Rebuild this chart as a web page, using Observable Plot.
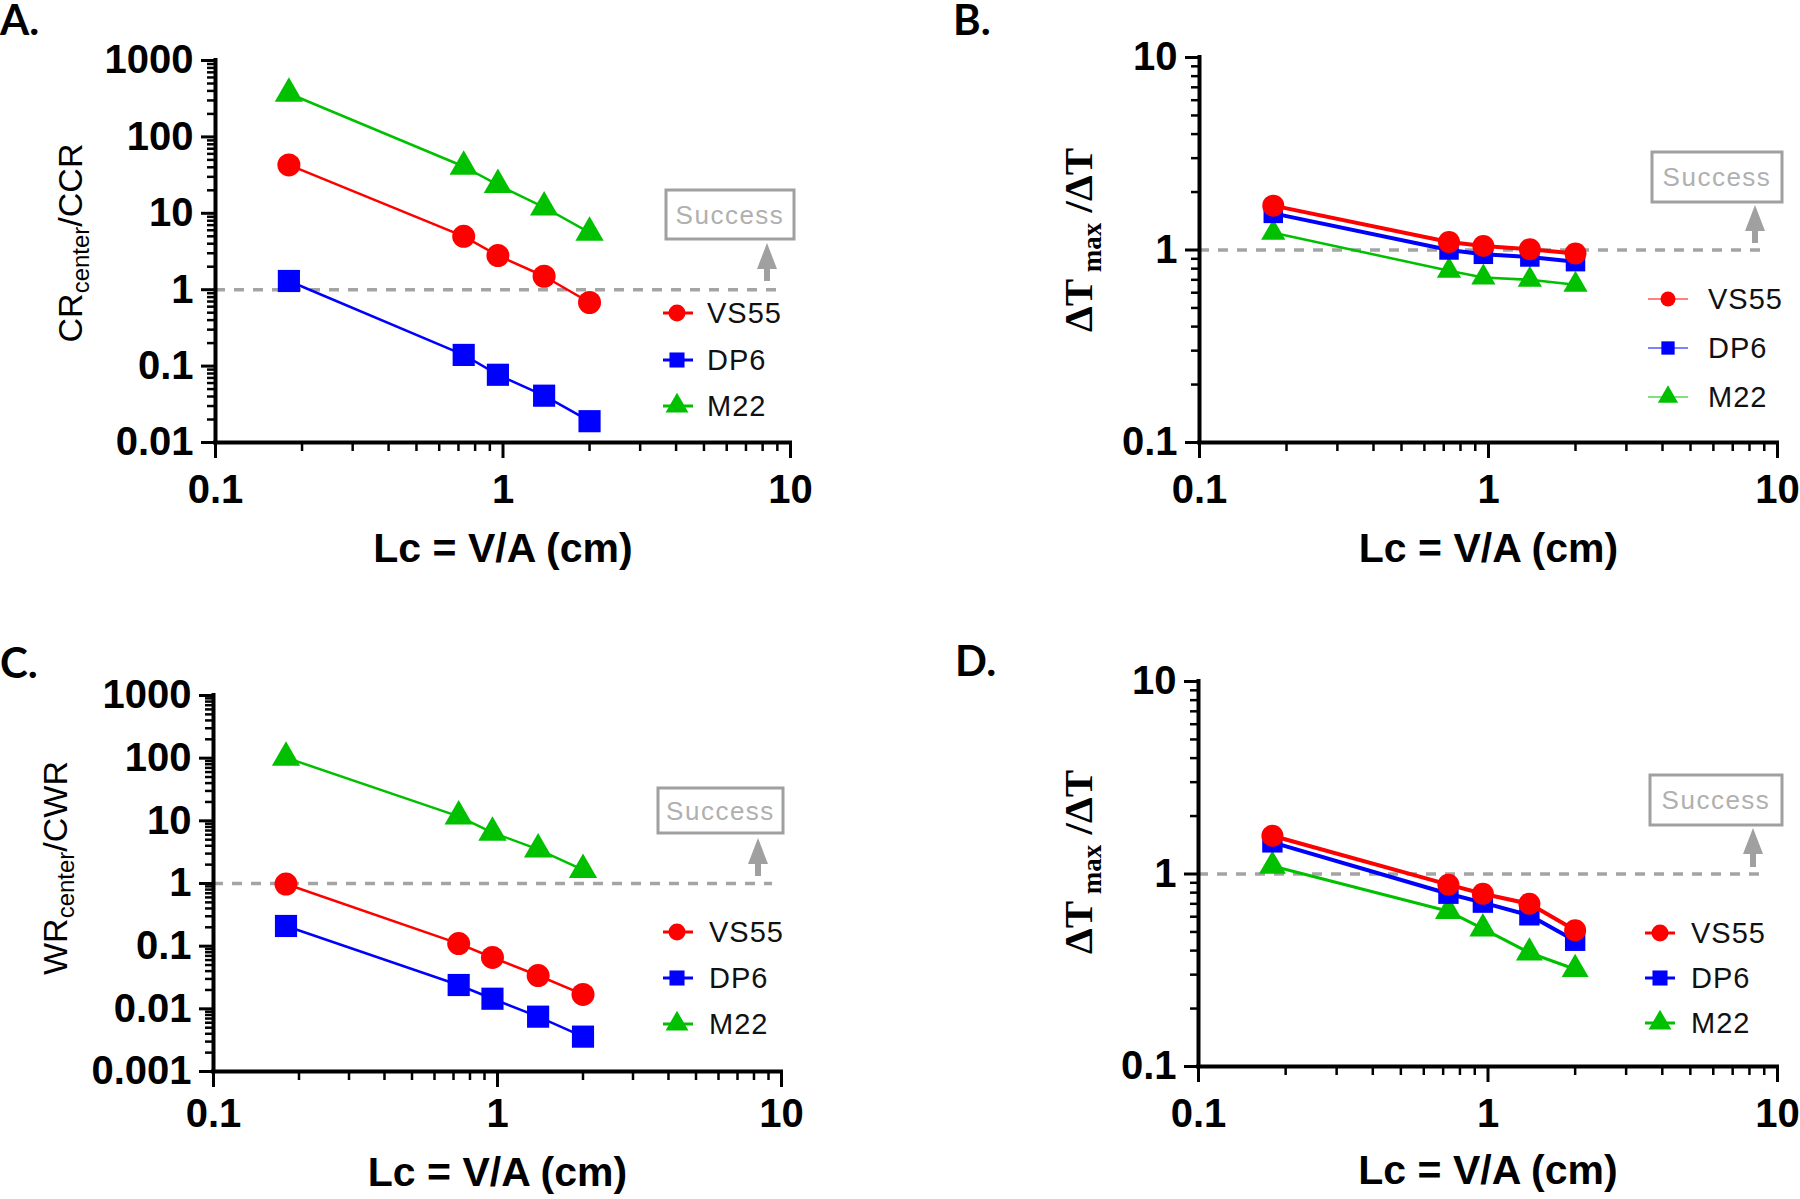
<!DOCTYPE html>
<html><head><meta charset="utf-8">
<script src="https://cdn.jsdelivr.net/npm/d3@7"></script>
<script src="https://cdn.jsdelivr.net/npm/@observablehq/plot@0.6"></script>
<style>
body{margin:0;background:#fff;}
#root{position:relative;width:1800px;height:1199px;overflow:hidden;background:#fff;}
.panel{position:absolute;}
#overlay{position:absolute;left:0;top:0;pointer-events:none;}
</style></head><body><div id="root"></div>
<script>
// ---------- data ----------
const lc = [0.18, 0.73, 0.96, 1.39, 2.0];
const seriesNames = ["VS55", "DP6", "M22"];
// Panel A: CRcenter/CCR
const crVS55 = [43, 5.0, 2.8, 1.5, 0.68];
const crDP6  = [1.3, 0.14, 0.077, 0.041, 0.019];
const crM22  = [370, 41, 23.5, 12, 5.6];
// Panel B: dTmax/dT (cooling)
const dtCoolVS55 = [1.70, 1.10, 1.05, 1.01, 0.96];
const dtCoolDP6  = [1.55, 1.00, 0.95, 0.92, 0.87];
const dtCoolM22  = [1.23, 0.78, 0.72, 0.70, 0.66];
// Panel C: WRcenter/CWR
const wrVS55 = [0.98, 0.11, 0.066, 0.034, 0.017];
const wrDP6  = [0.21, 0.024, 0.0145, 0.0075, 0.0036];
const wrM22  = [102, 11.8, 6.5, 3.5, 1.65];
// Panel D: dTmax/dT (warming)
const dtWarmVS55 = [1.58, 0.88, 0.79, 0.70, 0.51];
const dtWarmDP6  = [1.46, 0.79, 0.71, 0.61, 0.45];
const dtWarmM22  = [1.10, 0.64, 0.52, 0.39, 0.32];

const xDomain = [0.1, 10];
const xTickValues = [0.1, 1, 10];
const yTicksA = [0.01, 0.1, 1, 10, 100, 1000];
const yTicksB = [0.1, 1, 10];
const yTicksC = [0.001, 0.01, 0.1, 1, 10, 100, 1000];
const yTicksD = [0.1, 1, 10];
const xAxisTitle = "Lc = V/A (cm)";
const successThreshold = 1;
const successLabel = "Success";
const panelLabels = ["A.", "B.", "C.", "D."];

// ---------- styles ----------
const colors = {VS55: "#ff0000", DP6: "#0000ff", M22: "#00c000"};
const lightColors = {VS55: "#ff8080", DP6: "#8080ff", M22: "#80e080"};
const symbols = {VS55: "circle", DP6: "square", M22: "triangle"};
const d3Symbols = {VS55: d3.symbolCircle, DP6: d3.symbolSquare, M22: d3.symbolTriangle};
const drawOrder = ["M22", "DP6", "VS55"];
const SANS = "'Liberation Sans', Arial, sans-serif";
const SERIF = "'Liberation Serif', 'Times New Roman', serif";

function minorTicks(lo, hi) {
  const out = [];
  for (let e = Math.round(Math.log10(lo)); e < Math.round(Math.log10(hi)); e++)
    for (let m = 2; m <= 9; m++) out.push(+(m * Math.pow(10, e)).toPrecision(6));
  return out;
}

const panels = [
  {left: 0, top: 0, w: 900, h: 600, mL: 215, mR: 110, mT: 60, mB: 158,
   yDomain: [0.01, 1000], yTicks: yTicksA,
   series: {VS55: crVS55, DP6: crDP6, M22: crM22},
   lineW: {VS55: 2.5, DP6: 2.5, M22: 2.5}, r: {VS55: 11.5, DP6: 12.5, M22: 10.5},
   xPad: 16, titleDy: 119, dashEnd: 9.2},
  {left: 900, top: 0, w: 900, h: 600, mL: 299, mR: 23, mT: 57, mB: 158,
   yDomain: [0.1, 10], yTicks: yTicksB,
   series: {VS55: dtCoolVS55, DP6: dtCoolDP6, M22: dtCoolM22},
   lineW: {VS55: 4, DP6: 4, M22: 2.5}, r: {VS55: 11, DP6: 11, M22: 9},
   xPad: 16, titleDy: 119, dashEnd: 9.3},
  {left: 0, top: 600, w: 900, h: 599, mL: 213, mR: 119, mT: 95, mB: 128,
   yDomain: [0.001, 1000], yTicks: yTicksC,
   series: {VS55: wrVS55, DP6: wrDP6, M22: wrM22},
   lineW: {VS55: 2.5, DP6: 2.5, M22: 2.5}, r: {VS55: 11.5, DP6: 12.5, M22: 10.5},
   xPad: 11, titleDy: 114, dashEnd: 9.3},
  {left: 900, top: 600, w: 900, h: 599, mL: 298, mR: 23, mT: 81, mB: 133,
   yDomain: [0.1, 10], yTicks: yTicksD,
   series: {VS55: dtWarmVS55, DP6: dtWarmDP6, M22: dtWarmM22},
   lineW: {VS55: 4, DP6: 4, M22: 3}, r: {VS55: 11, DP6: 11.5, M22: 10},
   xPad: 16, titleDy: 117, dashEnd: 9.3}
];

const root = document.getElementById("root");
const xMinor = minorTicks(xDomain[0], xDomain[1]);

for (const cfg of panels) {
  const rows = [];
  for (const name of seriesNames)
    cfg.series[name].forEach((v, i) => rows.push({series: name, lc: lc[i], v}));
  const yMinor = minorTicks(cfg.yDomain[0], cfg.yDomain[1]);
  const marks = [
    Plot.ruleY([successThreshold], {x1: xDomain[0], x2: cfg.dashEnd, stroke: "#a4a4a4", strokeWidth: 3.5, strokeDasharray: "10,9"})
  ];
  for (const s of drawOrder) {
    const d = rows.filter(r => r.series === s);
    marks.push(Plot.line(d, {x: "lc", y: "v", stroke: colors[s], strokeWidth: cfg.lineW[s]}));
    marks.push(Plot.dot(d, {x: "lc", y: "v", symbol: symbols[s], fill: colors[s], stroke: "none", r: cfg.r[s]}));
  }
  marks.push(
    Plot.axisX({ticks: xTickValues, tickSize: 16, tickPadding: cfg.xPad, tickFormat: d => String(d), strokeWidth: 3, label: null}),
    Plot.axisX({ticks: xMinor, tickSize: 9, tickFormat: () => "", strokeWidth: 2.5, label: null}),
    Plot.axisY({ticks: cfg.yTicks, tickSize: 14, tickPadding: 8, tickFormat: d => String(d), strokeWidth: 3, label: null}),
    Plot.axisY({ticks: yMinor, tickSize: 8, tickFormat: () => "", strokeWidth: 2.5, label: null}),
    Plot.ruleX([xDomain[0]], {y1: cfg.yDomain[0], y2: cfg.yDomain[1], strokeWidth: 4, strokeLinecap: "square"}),
    Plot.ruleY([cfg.yDomain[0]], {x1: xDomain[0], x2: xDomain[1], strokeWidth: 4, strokeLinecap: "square"}),
    Plot.text([xAxisTitle], {frameAnchor: "bottom", dy: cfg.titleDy, text: d => d, fontSize: 41, fontWeight: "bold"})
  );
  const svg = Plot.plot({
    width: cfg.w, height: cfg.h,
    marginLeft: cfg.mL, marginRight: cfg.mR, marginTop: cfg.mT, marginBottom: cfg.mB,
    x: {type: "log", domain: xDomain},
    y: {type: "log", domain: cfg.yDomain},
    style: {fontFamily: SANS, fontSize: "40px", fontWeight: "bold", color: "black", background: "transparent", overflow: "visible"},
    marks
  });
  const div = document.createElement("div");
  div.className = "panel";
  div.style.left = cfg.left + "px";
  div.style.top = cfg.top + "px";
  div.style.width = cfg.w + "px";
  div.style.height = cfg.h + "px";
  div.appendChild(svg);
  root.appendChild(div);
}

// ---------- overlay: panel labels, y titles, legends, success annotations ----------
const ov = d3.select(root).append("svg").attr("id", "overlay").attr("width", 1800).attr("height", 1199);

const labelPos = [[0, 35], [953, 35], [0, 678], [955, 676]];
panelLabels.forEach((t, i) => {
  ov.append("text").attr("x", labelPos[i][0]).attr("y", labelPos[i][1])
    .attr("font-family", "Lato, 'Open Sans', sans-serif").attr("font-weight", "bold").attr("font-size", 42).text(t);
});

// y titles
function sansTitle(x, cy, main, sub, tail) {
  const t = ov.append("text").attr("transform", `translate(${x},${cy}) rotate(-90)`)
    .attr("text-anchor", "middle").attr("font-family", SANS).attr("font-size", 34);
  t.append("tspan").text(main);
  t.append("tspan").attr("font-size", 24).attr("dy", 7).text(sub);
  t.append("tspan").attr("dy", -7).text(tail);
}
sansTitle(82, 243, "CR", "center", "/CCR");
sansTitle(67, 868, "WR", "center", "/CWR");
function serifTitle(x, cy) {
  const t = ov.append("text").attr("transform", `translate(${x},${cy}) rotate(-90)`)
    .attr("text-anchor", "middle").attr("font-family", SERIF).attr("font-weight", "bold").attr("font-size", 41);
  t.append("tspan").text("\u0394T");
  t.append("tspan").attr("font-size", 27).attr("dy", 9).text(" max");
  t.append("tspan").attr("dy", -9).text(" /\u0394T");
}
serifTitle(1092, 240);
serifTitle(1092, 862);

// legends
const legends = [
  {x: 677, x1: 663, x2: 693, tx: 707, rows: [313, 360, 406], r: 8.5, light: false, lw: 3},
  {x: 1668, x1: 1648, x2: 1688, tx: 1708, rows: [299, 348, 397], r: 7.5, light: true, lw: 2},
  {x: 677, x1: 663, x2: 693, tx: 709, rows: [932, 978, 1024], r: 8.5, light: false, lw: 3},
  {x: 1660, x1: 1645, x2: 1675, tx: 1691, rows: [933, 978, 1023], r: 8.5, light: false, lw: 3}
];
for (const L of legends) {
  seriesNames.forEach((s, i) => {
    const y = L.rows[i];
    ov.append("line").attr("x1", L.x1).attr("x2", L.x2).attr("y1", y).attr("y2", y)
      .attr("stroke", L.light ? lightColors[s] : colors[s]).attr("stroke-width", L.lw);
    ov.append("path").attr("transform", `translate(${L.x},${y})`)
      .attr("d", d3.symbol(d3Symbols[s], Math.PI * L.r * L.r)()).attr("fill", colors[s]);
    ov.append("text").attr("x", L.tx).attr("y", y + 10).attr("font-family", SANS)
      .attr("font-size", 29).attr("letter-spacing", 1).attr("fill", "#111").text(s);
  });
}

// success boxes and arrows
const successes = [
  {box: [666, 190, 128, 49], ax: 767, tip: 243, base: 281},
  {box: [1652, 152, 130, 50], ax: 1755, tip: 205, base: 243},
  {box: [658, 788, 125, 45], ax: 758, tip: 838, base: 876},
  {box: [1650, 775, 132, 50], ax: 1753, tip: 828, base: 867}
];
for (const S of successes) {
  const [bx, by, bw, bh] = S.box;
  ov.append("rect").attr("x", bx).attr("y", by).attr("width", bw).attr("height", bh)
    .attr("fill", "white").attr("stroke", "#a0a0a0").attr("stroke-width", 3);
  ov.append("text").attr("x", bx + bw / 2).attr("y", by + bh / 2 + 9).attr("text-anchor", "middle")
    .attr("font-family", SANS).attr("font-size", 26).attr("letter-spacing", 1.5).attr("fill", "#b0b0b0").text(successLabel);
  ov.append("path").attr("d",
    `M${S.ax},${S.tip} L${S.ax - 10},${S.tip + 26} L${S.ax - 3},${S.tip + 26} L${S.ax - 3},${S.base} L${S.ax + 3},${S.base} L${S.ax + 3},${S.tip + 26} L${S.ax + 10},${S.tip + 26} Z`)
    .attr("fill", "#a0a0a0");
}
</script></body></html>
